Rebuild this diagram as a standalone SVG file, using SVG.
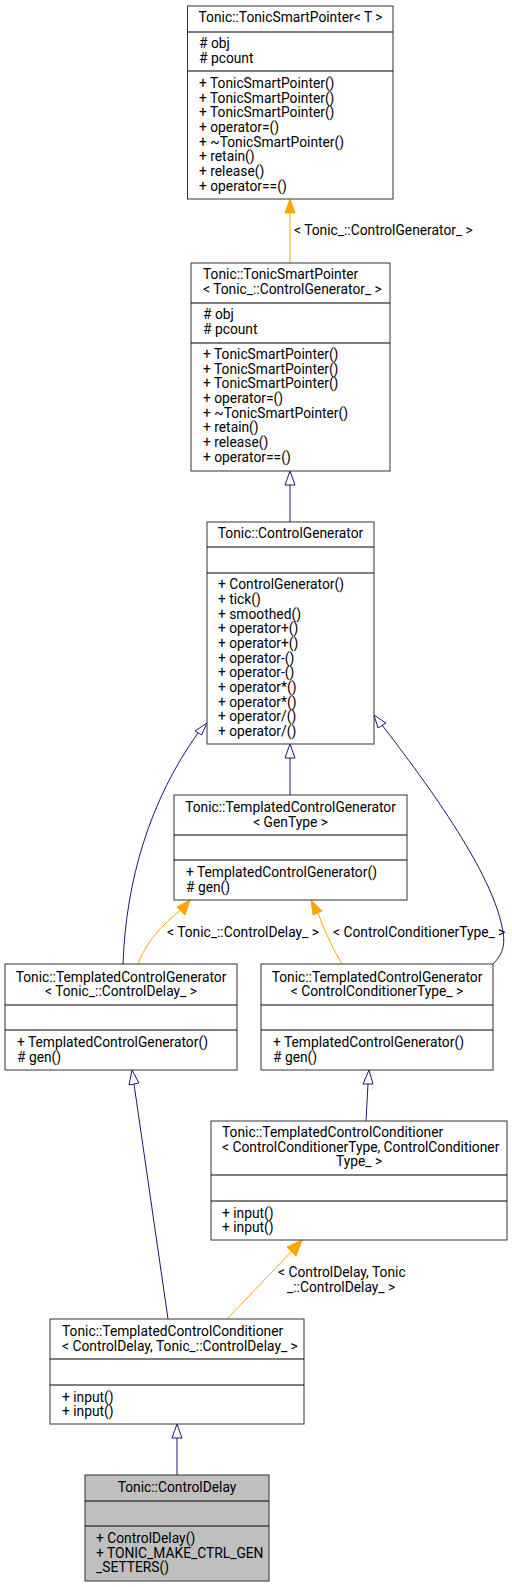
<svg xmlns="http://www.w3.org/2000/svg" width="512" height="1587" viewBox="0 0 512 1587">
<style>
text{font-family:Roboto,"Liberation Sans",sans-serif;font-size:13.8px;fill:#000}
.c{text-anchor:middle}
.box{fill:#fff;stroke:#333;stroke-width:1}
.cur{fill:#bfbfbf;stroke:#333;stroke-width:1}
.sep{stroke:#000;stroke-width:1}
.nav{fill:none;stroke:#191970;stroke-width:1}
.navh{fill:#fff;stroke:#191970;stroke-width:1}
.org{fill:none;stroke:#ffa500;stroke-width:1}
.orgh{fill:#ffa500;stroke:#ffa500;stroke-width:1}
</style>
<rect width="512" height="1587" fill="#fff"/>
<g id="edges">
<path class="org" d="M290,263 L290,213"/>
<polygon class="orgh" points="290,199 285,213 295,213"/>
<text x="294" y="235">&lt; Tonic_::ControlGenerator_ &gt;</text>
<path class="nav" d="M290,522 L290,485"/>
<polygon class="navh" points="290,471 285,485 295,485"/>
<path class="nav" d="M290,795 L290,758"/>
<polygon class="navh" points="290,744 285,758 295,758"/>
<path class="nav" d="M123,964 C126,880 150,800 198,733"/>
<polygon class="navh" points="207,723 195,731 201.5,735"/>
<path class="nav" d="M493,964 C500,957 506,948 503,932 C495,880 440,800 382,725"/>
<polygon class="navh" points="374,715 378,728 386,723"/>
<path class="org" d="M138,964 C143,950 155,930 181,910"/>
<polygon class="orgh" points="190,900 177,907 185,915"/>
<text x="167" y="937">&lt; Tonic_::ControlDelay_ &gt;</text>
<path class="org" d="M342,964 C335,952 326,935 318,913"/>
<polygon class="orgh" points="311,900 313,915 322,911"/>
<text x="333" y="937">&lt; ControlConditionerType_ &gt;</text>
<path class="nav" d="M168,1319 L134,1084"/>
<polygon class="navh" points="132,1070 129,1085 139,1083"/>
<path class="nav" d="M366,1121 L368,1084"/>
<polygon class="navh" points="369,1070 363,1084 373,1084"/>
<path class="org" d="M227,1319 L292,1251"/>
<polygon class="orgh" points="302,1240 287,1247 296,1256"/>
<text x="278" y="1277">&lt; ControlDelay, Tonic</text>
<text x="287" y="1292">_::ControlDelay_ &gt;</text>
<path class="nav" d="M177,1475 L177,1438"/>
<polygon class="navh" points="177,1424 172,1438 182,1438"/>
</g>
<g id="n1">
<rect class="box" x="187.5" y="6" width="205.5" height="193"/>
<line class="sep" x1="187.5" y1="32" x2="393" y2="32"/>
<line class="sep" x1="187.5" y1="71" x2="393" y2="71"/>
<text class="c" x="290.5" y="22">Tonic::TonicSmartPointer&lt; T &gt;</text>
<text x="199" y="48"># obj</text>
<text x="199" y="63"># pcount</text>
<text x="199" y="88">+ TonicSmartPointer()</text>
<text x="199" y="102.7">+ TonicSmartPointer()</text>
<text x="199" y="117.3">+ TonicSmartPointer()</text>
<text x="199" y="132">+ operator=()</text>
<text x="199" y="146.7">+ ~TonicSmartPointer()</text>
<text x="199" y="161.3">+ retain()</text>
<text x="199" y="176">+ release()</text>
<text x="199" y="190.7">+ operator==()</text>
</g>
<g id="n2">
<rect class="box" x="191" y="263" width="199" height="208"/>
<line class="sep" x1="191" y1="303" x2="390" y2="303"/>
<line class="sep" x1="191" y1="343" x2="390" y2="343"/>
<text x="203" y="279">Tonic::TonicSmartPointer</text>
<text x="203" y="294">&lt; Tonic_::ControlGenerator_ &gt;</text>
<text x="203" y="319"># obj</text>
<text x="203" y="334"># pcount</text>
<text x="203" y="359">+ TonicSmartPointer()</text>
<text x="203" y="373.7">+ TonicSmartPointer()</text>
<text x="203" y="388.3">+ TonicSmartPointer()</text>
<text x="203" y="403">+ operator=()</text>
<text x="203" y="417.7">+ ~TonicSmartPointer()</text>
<text x="203" y="432.3">+ retain()</text>
<text x="203" y="447">+ release()</text>
<text x="203" y="461.7">+ operator==()</text>
</g>
<g id="n3">
<rect class="box" x="207" y="522" width="167" height="222"/>
<line class="sep" x1="207" y1="547" x2="374" y2="547"/>
<line class="sep" x1="207" y1="573" x2="374" y2="573"/>
<text class="c" x="290.5" y="538">Tonic::ControlGenerator</text>
<text x="218" y="589.3">+ ControlGenerator()</text>
<text x="218" y="604">+ tick()</text>
<text x="218" y="618.7">+ smoothed()</text>
<text x="218" y="633.3">+ operator+()</text>
<text x="218" y="648">+ operator+()</text>
<text x="218" y="662.7">+ operator-()</text>
<text x="218" y="677.3">+ operator-()</text>
<text x="218" y="692">+ operator*()</text>
<text x="218" y="706.7">+ operator*()</text>
<text x="218" y="721.3">+ operator/()</text>
<text x="218" y="736">+ operator/()</text>
</g>
<g id="n4">
<rect class="box" x="174" y="795" width="233" height="105"/>
<line class="sep" x1="174" y1="835" x2="407" y2="835"/>
<line class="sep" x1="174" y1="860" x2="407" y2="860"/>
<text class="c" x="290.5" y="812">Tonic::TemplatedControlGenerator</text>
<text class="c" x="290.5" y="827">&lt; GenType &gt;</text>
<text x="186" y="877">+ TemplatedControlGenerator()</text>
<text x="186" y="892"># gen()</text>
</g>
<g id="n5">
<rect class="box" x="5" y="964" width="232" height="106"/>
<line class="sep" x1="5" y1="1005" x2="237" y2="1005"/>
<line class="sep" x1="5" y1="1030" x2="237" y2="1030"/>
<text class="c" x="121" y="982">Tonic::TemplatedControlGenerator</text>
<text class="c" x="121" y="996">&lt; Tonic_::ControlDelay_ &gt;</text>
<text x="17" y="1047">+ TemplatedControlGenerator()</text>
<text x="17" y="1062"># gen()</text>
</g>
<g id="n6">
<rect class="box" x="261" y="964" width="232" height="106"/>
<line class="sep" x1="261" y1="1005" x2="493" y2="1005"/>
<line class="sep" x1="261" y1="1030" x2="493" y2="1030"/>
<text class="c" x="377" y="982">Tonic::TemplatedControlGenerator</text>
<text class="c" x="377" y="996">&lt; ControlConditionerType_ &gt;</text>
<text x="273" y="1047">+ TemplatedControlGenerator()</text>
<text x="273" y="1062"># gen()</text>
</g>
<g id="n7">
<rect class="box" x="211" y="1121" width="296" height="119"/>
<line class="sep" x1="211" y1="1175" x2="507" y2="1175"/>
<line class="sep" x1="211" y1="1201" x2="507" y2="1201"/>
<text x="222" y="1137">Tonic::TemplatedControlConditioner</text>
<text x="222" y="1152">&lt; ControlConditionerType, ControlConditioner</text>
<text class="c" x="359" y="1166">Type_ &gt;</text>
<text x="222" y="1218">+ input()</text>
<text x="222" y="1232">+ input()</text>
</g>
<g id="n8">
<rect class="box" x="50" y="1319" width="254" height="105"/>
<line class="sep" x1="50" y1="1359" x2="304" y2="1359"/>
<line class="sep" x1="50" y1="1385" x2="304" y2="1385"/>
<text x="62" y="1336">Tonic::TemplatedControlConditioner</text>
<text x="62" y="1351">&lt; ControlDelay, Tonic_::ControlDelay_ &gt;</text>
<text x="62" y="1402">+ input()</text>
<text x="62" y="1416">+ input()</text>
</g>
<g id="n9">
<rect class="cur" x="85" y="1475" width="184" height="106"/>
<line class="sep" x1="85" y1="1501" x2="269" y2="1501"/>
<line class="sep" x1="85" y1="1526" x2="269" y2="1526"/>
<text class="c" x="177" y="1492">Tonic::ControlDelay</text>
<text x="96" y="1543">+ ControlDelay()</text>
<text x="96" y="1558">+ TONIC_MAKE_CTRL_GEN</text>
<text x="96" y="1572">_SETTERS()</text>
</g>
</svg>
